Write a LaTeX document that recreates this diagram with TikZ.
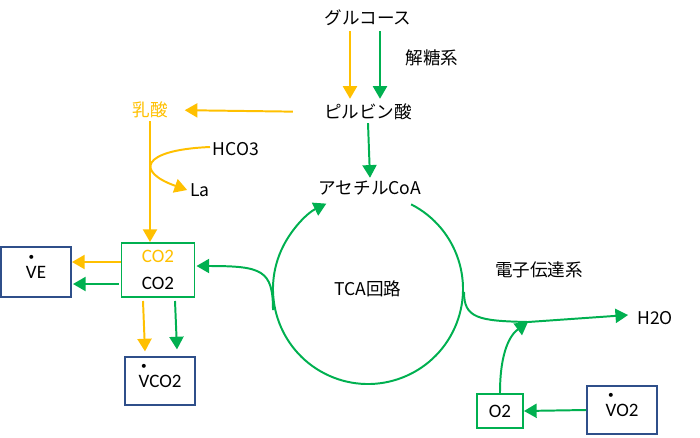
\documentclass[tikz,border=0pt]{standalone}
\usepackage{fontspec}
\setmainfont{Carlito}
\newfontfamily\jp{Noto Sans CJK JP}
\usetikzlibrary{arrows.meta,calc}
\definecolor{gold}{HTML}{FFC000}
\definecolor{grn}{HTML}{00B050}
\definecolor{navy}{HTML}{2F4F8A}
% V with a dot above
\newcommand{\dotV}{\ooalign{V\cr\hidewidth\raisebox{12.5pt}{\fontsize{8}{8}\selectfont\textbullet}\hidewidth\cr}}
\tikzset{
  lbl/.style={font=\jp\fontsize{12.5}{15}\selectfont, inner sep=2pt},
  oarr/.style={gold, line width=1.4pt, -{Triangle[length=9pt,width=10pt]}},
  garr/.style={grn, line width=1.4pt, -{Triangle[length=9pt,width=10pt]}},
  gbox/.style={draw=grn, line width=1.4pt, font=\fontsize{13.5}{19}\selectfont, align=center},
  nbox/.style={draw=navy, line width=1.4pt, font=\fontsize{13.5}{19}\selectfont, align=center,
    minimum width=1.75cm}
}
\begin{document}
\begin{tikzpicture}[x=0.025cm,y=-0.025cm]
  \useasboundingbox (0,0) rectangle (700,437);

  %GLYCOLYSIS
  \node[lbl] (glc) at (368,18) {グルコース};
  \node[lbl] (pyr) at (368,112) {ピルビン酸};
  \node[lbl] (gly) at (432,58) {解糖系};
  \draw[oarr] ($(glc.south)+(-18,2)$) -- ($(pyr.north)+(-18,-2)$);
  \draw[garr] ($(glc.south)+(12,2)$) -- ($(pyr.north)+(12,-2)$);

  %LACTATE
  \node[lbl, gold] (lac) at (150,110) {乳酸};
  \node[lbl] (hco) at (236,149) {HCO3};
  \node[lbl] (la) at (200,190) {La};
  \draw[oarr, shorten <=20pt, shorten >=10pt] (pyr.west) -- (lac.east);
  \coordinate (hcs) at (210,147);
  \draw[oarr] (hcs) .. controls (140,150) and (136,172) .. (la.west);

  %ACETYL CoA + TCA
  \node[lbl] (acoa) at (370,188) {アセチルCoA};
  \node[lbl] (tca) at (368,289) {TCA回路};
  \draw[garr] (pyr.south) -- (acoa.north);
  \draw[garr] ($(tca)+(-63:95)$) arc[start angle=-63, end angle=244, radius=95];

  %CO2 + VE + VCO2
  \node[gbox, minimum width=1.825cm, minimum height=1.35cm] (co2) at (158,270)
    {\textcolor{gold}{CO2}\\CO2};
  \node[nbox, minimum height=1.25cm] (ve) at (36,272) {\dotV E};
  \node[nbox, minimum height=1.18cm] (vco2) at (160,381) {\dotV CO2};
  \draw[oarr] (lac.south) -- (lac.south |- co2.north);
  \draw[oarr] ($(co2.west)+(0,-8)$) -- ($(ve.east)+(0,-10)$);
  \draw[garr] ($(co2.west)+(-2,14)$) -- ($(ve.east)+(1,12)$);
  \draw[oarr] ($(co2.south)+(-15,3)$) -- ($(vco2.north)+(-15,-5)$);
  \draw[garr] ($(co2.south)+(17,3)$) -- ($(vco2.north)+(17,-7)$);
  \coordinate (lbr) at (273,310);
  \draw[garr] (lbr) .. controls (273,270) and (262,266) .. ($(co2.east)+(1,-4)$);

  %ELECTRON TRANSPORT
  \node[lbl] (etc) at (539,270) {電子伝達系};
  \node[lbl] (h2o) at (655,318) {H2O};
  \node[gbox, minimum width=1.15cm, minimum height=0.85cm] (o2) at (500,411) {O2};
  \node[nbox, minimum height=1.22cm] (vo2) at (622,410) {\dotV O2};
  \coordinate (rbr) at (464,292);
  \coordinate (mrg) at (528,322);
  \draw[garr] (rbr) .. controls (464,318) and (478,321) .. (mrg) -- ($(h2o.west)+(-6,-3)$);
  \draw[garr] (o2.north) .. controls (500,352) and (510,335) .. (mrg);
  \draw[garr] (vo2.west) -- (o2.east);
\end{tikzpicture}
\end{document}
